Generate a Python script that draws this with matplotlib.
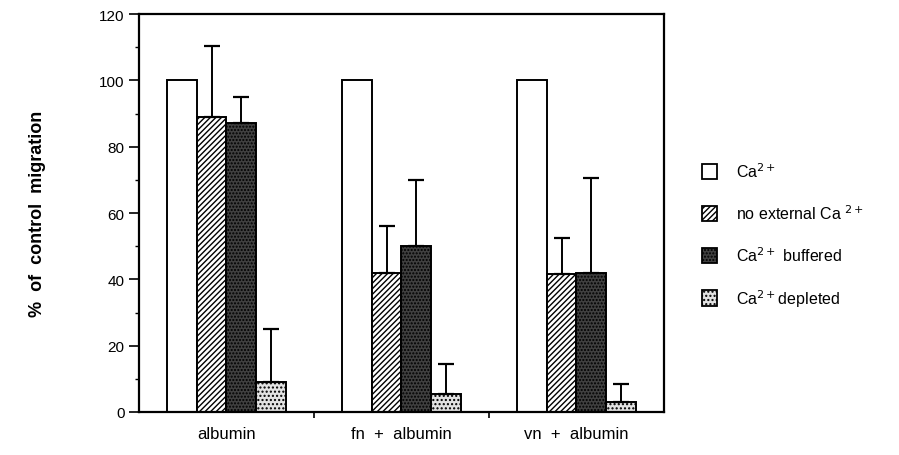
import numpy as np
import matplotlib
matplotlib.use('Agg')
import matplotlib.pyplot as plt
from matplotlib.patches import Patch

groups = ['albumin', 'fn  +  albumin', 'vn  +  albumin']
series = ['Ca$^{2+}$', 'no external Ca $^{2+}$', 'Ca$^{2+}$ buffered', 'Ca$^{2+}$depleted']
values = [
    [100, 89, 87, 9],     # albumin
    [100, 42, 50, 5.5],   # fn + albumin
    [100, 41.5, 42, 3],   # vn + albumin
]
errors = [
    [0, 21.5, 8, 16],
    [0, 14, 20, 9],
    [0, 11, 28.5, 5.5],
]
# transpose to per-series lists
vals = np.array(values).T
errs = np.array(errors).T

styles = [
    dict(facecolor='white', hatch=None),
    dict(facecolor='white', hatch='//////'),
    dict(facecolor='#404040', hatch='.....'),
    dict(facecolor='#e2e2e2', hatch='....'),
]

plt.rcParams['font.family'] = ['Liberation Sans', 'DejaVu Sans']
plt.rcParams['hatch.linewidth'] = 1.0
plt.rcParams['hatch.color'] = 'black'

fig = plt.figure(figsize=(8.99, 4.56), dpi=100)
ax = fig.add_axes([0.1546, 0.0943, 0.584, 0.8728])

width = 0.17
x = np.arange(len(groups)) + 0.5
for i in range(len(series)):
    pos = x + (i - 1.5) * width
    st = styles[i]
    h = vals[i]
    e = errs[i]
    ax.bar(pos, h, width, color=st['facecolor'], edgecolor='black',
           linewidth=1.4, hatch=st['hatch'], zorder=2)
    mask = e > 0
    ax.errorbar(pos[mask], h[mask], yerr=[np.zeros(mask.sum()), e[mask]],
                fmt='none', ecolor='black', elinewidth=1.4, capsize=6,
                capthick=1.6, zorder=3)

ax.set_xlim(0, 3)
ax.set_ylim(0, 120)
ax.set_yticks(range(0, 121, 20))
ax.set_yticks(range(10, 120, 20), minor=True)
ax.set_xticks(x)
ax.set_xticklabels(groups, fontsize=12)
ax.set_xticks([1, 2], minor=True)
ax.tick_params(axis='x', which='major', length=0, pad=10)
ax.tick_params(axis='x', which='minor', length=4, width=1.2, direction='out')
ax.tick_params(axis='y', which='major', length=7, width=1.2, labelsize=11)
ax.tick_params(axis='y', which='minor', length=3, width=1.0)
for s in ax.spines.values():
    s.set_linewidth(1.6)

ax.set_ylabel('%  of  control  migration', fontsize=13, fontweight='bold',
              labelpad=38)

handles = [Patch(facecolor=st['facecolor'], edgecolor='black', hatch=st['hatch'],
                 linewidth=1.3) for st in styles]
ax.legend(handles, series, loc='center left', bbox_to_anchor=(1.045, 0.445),
          frameon=False, fontsize=11.5, handlelength=0.95, handleheight=1.1,
          labelspacing=1.45, handletextpad=1.2)

fig.savefig('out.png', dpi=100)
